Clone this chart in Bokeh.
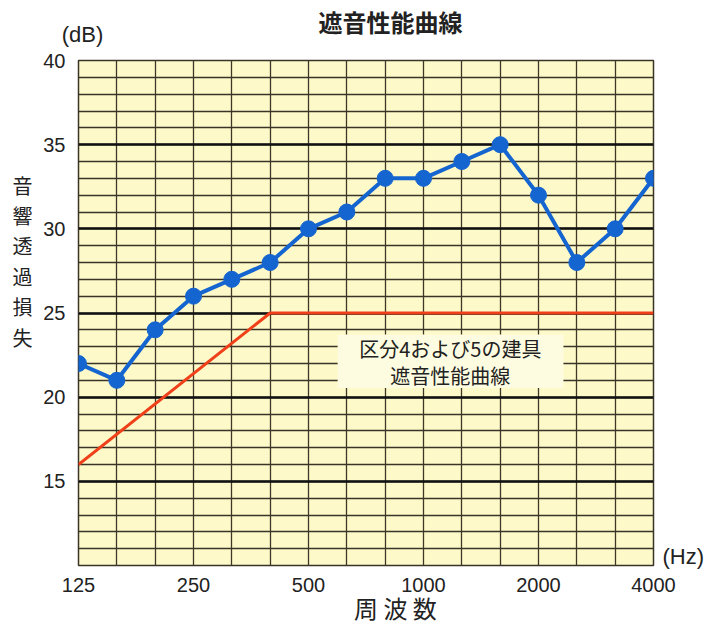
from bokeh.plotting import figure
from bokeh.models import FixedTicker, Label, BoxAnnotation, Range1d, LinearAxis
from bokeh.embed import file_html
from bokeh.resources import INLINE

freqs = [125, 160, 200, 250, 315, 400, 500, 630, 800, 1000, 1250, 1600, 2000, 2500, 3150, 4000]
measured = [22, 21, 24, 26, 27, 28, 30, 31, 33, 33, 34, 35, 32, 28, 30, 33]
ref_freqs = [125, 400, 4000]
ref_values = [16, 25, 25]
x_tick_labels = ["125", "250", "500", "1000", "2000", "4000"]
y_ticks = [15, 20, 25, 30, 35, 40]

xi = list(range(len(freqs)))
ref_x = [freqs.index(f) for f in ref_freqs]

W, H = 723, 632
FL, FR, FT, FB = 78, 653, 58, 565   # frame edges in pixels
p = figure(width=W, height=H, output_backend="svg", toolbar_location=None,
           x_range=Range1d(0, len(freqs) - 1), y_range=Range1d(10, 40),
           min_border_left=FL, min_border_right=W - FR, min_border_top=FT, min_border_bottom=H - FB,
           x_axis_location=None, y_axis_location=None)
# pixel ranges for the decorative texts around the frame
p.extra_x_ranges = {"px": Range1d(FL, FR)}
p.extra_y_ranges = {"py": Range1d(FB, FT)}

p.background_fill_color = "#FDF9C8"
p.border_fill_color = "white"
p.outline_line_color = "#3a3428"
p.outline_line_width = 1.5

# grid
p.xgrid.ticker = FixedTicker(ticks=xi)
p.xgrid.grid_line_color = "#3f3828"
p.xgrid.grid_line_width = 1.3
p.ygrid.ticker = FixedTicker(ticks=list(range(10, 41, 5)), minor_ticks=list(range(10, 41)))
p.ygrid.grid_line_color = "#111111"
p.ygrid.grid_line_width = 2.4
p.ygrid.minor_grid_line_color = "#3a3428"
p.ygrid.minor_grid_line_width = 1.3


def style(ax, font, size, standoff, weight="normal"):
    ax.axis_line_color = None
    ax.major_tick_line_color = None
    ax.minor_tick_line_color = None
    ax.major_tick_out = 0
    ax.major_tick_in = 0
    ax.minor_tick_out = 0
    ax.minor_tick_in = 0
    ax.major_label_text_font = font
    ax.major_label_text_font_size = size
    ax.major_label_text_font_style = weight
    ax.major_label_text_color = "#222222"
    ax.major_label_standoff = standoff
    return ax

CJK = "Noto Sans CJK JP"
NUM = "Liberation Sans"

# main x axis (frequency)
lab_idx = [freqs.index(int(t)) for t in x_tick_labels]
xa = LinearAxis(ticker=FixedTicker(ticks=lab_idx),
                major_label_overrides={i: t for i, t in zip(lab_idx, x_tick_labels)})
style(xa, NUM, "20px", 12)
p.add_layout(xa, "below")
# x axis title
xt = LinearAxis(x_range_name="px", ticker=FixedTicker(ticks=[395]),
                major_label_overrides={395: "周 波 数"})
style(xt, CJK, "24px", -5)
p.add_layout(xt, "below")

# main y axis
ya = LinearAxis(ticker=FixedTicker(ticks=y_ticks))
style(ya, NUM, "20px", 13)
p.add_layout(ya, "left")
# stacked vertical y title
ychars = ["音", "響", "透", "過", "損", "失"]
ypos = [183, 214, 244, 275, 305, 336]
yt = LinearAxis(y_range_name="py", ticker=FixedTicker(ticks=ypos),
                major_label_overrides={py: ch for py, ch in zip(ypos, ychars)})
style(yt, CJK, "20px", 8)
p.add_layout(yt, "left")

# (dB) above, then the title
dba = LinearAxis(x_range_name="px", ticker=FixedTicker(ticks=[82]),
                 major_label_overrides={82: "(dB)"})
style(dba, NUM, "22px", 14)
p.add_layout(dba, "above")
tta = LinearAxis(x_range_name="px", ticker=FixedTicker(ticks=[390]),
                 major_label_overrides={390: "遮音性能曲線"})
style(tta, CJK, "24px", -20, weight="bold")
p.add_layout(tta, "above")

# (Hz) right
hza = LinearAxis(y_range_name="py", ticker=FixedTicker(ticks=[556]),
                 major_label_overrides={556: "(Hz)"})
style(hza, NUM, "22px", 9)
p.add_layout(hza, "right")

# box annotation behind text
p.add_layout(BoxAnnotation(left=6.76, right=12.65, bottom=20.55, top=23.73,
                           fill_color="#FEFCE0", fill_alpha=1.0, line_color=None, level="underlay"))

# reference curve
p.line(ref_x, ref_values, line_color="#F0401A", line_width=3)

# measured
p.line(xi, measured, line_color="#1565D0", line_width=4)
p.scatter(xi, measured, size=16, fill_color="#1565D0", line_color="#1565D0")

for txt, yv in [("区分4および5の建具", 22.9), ("遮音性能曲線", 21.3)]:
    p.add_layout(Label(x=9.7, y=yv, text=txt, text_font=CJK, text_font_size="20px",
                       text_align="center", text_baseline="middle", text_color="#222222"))

open("out.html", "w").write(file_html(p, INLINE))
